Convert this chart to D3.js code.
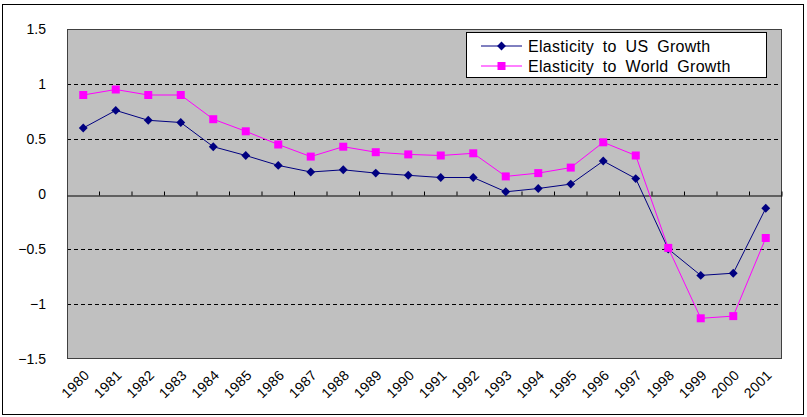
<!DOCTYPE html>
<html>
<head>
<meta charset="utf-8">
<script src="https://cdn.jsdelivr.net/npm/d3@7"></script>
<style>
    body { margin: 0; background: #fff; }
    svg { display: block; font-family: "Liberation Sans", Arial, sans-serif; }
</style>
</head>
<body>
<svg id="chart" width="807" height="417"></svg>
<script>
var years = ['1980', '1981', '1982', '1983', '1984', '1985', '1986', '1987',
             '1988', '1989', '1990', '1991', '1992', '1993', '1994', '1995',
             '1996', '1997', '1998', '1999', '2000', '2001'];
var us_growth = [0.6, 0.76, 0.67, 0.65, 0.43, 0.35, 0.26, 0.2, 0.22, 0.19, 0.17,
                 0.15, 0.15, 0.02, 0.05, 0.09, 0.3, 0.14, -0.5, -0.74, -0.72, -0.13];
var world_growth = [0.9, 0.95, 0.9, 0.9, 0.68, 0.57, 0.45, 0.34, 0.43, 0.38, 0.36,
                    0.35, 0.37, 0.16, 0.19, 0.24, 0.47, 0.35, -0.49, -1.13, -1.11, -0.4];
var y_ticks = [-1.5, -1, -0.5, 0, 0.5, 1, 1.5];
var series_names = ['Elasticity to US Growth', 'Elasticity to World Growth'];

var svg = d3.select('#chart');
var plot = { left: 67, right: 782, top: 29, bottom: 359 };

// outer chart border
svg.append('rect')
    .attr('x', 2.5).attr('y', 4.5)
    .attr('width', 801).attr('height', 410)
    .attr('fill', '#fff')
    .attr('stroke', '#000')
    .attr('stroke-width', 1);

var x = d3.scaleBand().domain(years).range([plot.left, plot.right]);
var y = d3.scaleLinear().domain([-1.5, 1.5]).range([plot.bottom, plot.top]);

svg.append('rect')
    .attr('x', plot.left).attr('y', plot.top)
    .attr('width', plot.right - plot.left)
    .attr('height', plot.bottom - plot.top)
    .attr('fill', '#c0c0c0');

// dashed gridlines
svg.append('g')
    .selectAll('line')
    .data(y_ticks.filter(function (d) { return d !== 0 && Math.abs(d) !== 1.5; }))
    .enter().append('line')
    .attr('x1', plot.left).attr('x2', plot.right)
    .attr('y1', function (d) { return Math.round(y(d)) + 0.5; })
    .attr('y2', function (d) { return Math.round(y(d)) + 0.5; })
    .attr('stroke', '#000')
    .attr('stroke-dasharray', '4,3');

svg.append('rect')
    .attr('x', plot.left + 0.5).attr('y', plot.top + 0.5)
    .attr('width', plot.right - plot.left - 1)
    .attr('height', plot.bottom - plot.top - 1)
    .attr('fill', 'none')
    .attr('stroke', '#404040');

// y axis labels
var y_axis = d3.axisLeft(y)
    .tickValues(y_ticks)
    .tickSize(0)
    .tickPadding(21)
    .tickFormat(function (d) { return d < 0 ? '\u2212' + Math.abs(d) : String(d); });
var y_g = svg.append('g')
    .attr('transform', 'translate(' + plot.left + ',0)')
    .call(y_axis);
y_g.select('.domain').remove();
y_g.selectAll('text')
    .attr('font-size', 14)
    .attr('font-family', '"Liberation Sans", Arial, sans-serif')
    .attr('fill', '#000');

// zero line with category ticks
var zero_y = Math.round(y(0)) + 1.5;
var x_axis = d3.axisTop(x)
    .tickSize(4)
    .tickFormat('')
    .tickSizeOuter(0);
var x_g = svg.append('g')
    .attr('transform', 'translate(0,' + zero_y + ')')
    .call(x_axis);
x_g.selectAll('.tick').attr('transform', function (d) {
    return 'translate(' + (x(d) + x.bandwidth()) + ',0)';
});
x_g.selectAll('line, path').attr('stroke', '#000');

// rotated year labels
svg.append('g')
    .selectAll('text')
    .data(years)
    .enter().append('text')
    .attr('transform', function (d) {
        return 'translate(' + (x(d) + x.bandwidth() / 2 + 7) + ',' + (plot.bottom + 17) + ') rotate(-45)';
    })
    .attr('text-anchor', 'end')
    .attr('font-size', 14)
    .attr('letter-spacing', 0.3)
    .text(function (d) { return d; });

var line_gen = d3.line()
    .x(function (d, i) { return x(years[i]) + x.bandwidth() / 2; })
    .y(function (d) { return y(d); });

var diamond = d3.symbol().type(d3.symbolDiamond2).size(50);
var square = d3.symbol().type(d3.symbolSquare).size(64);

function draw_series(values, color, kind) {
    var g = svg.append('g');
    g.append('path')
        .datum(values)
        .attr('d', line_gen)
        .attr('fill', 'none')
        .attr('stroke', color)
        .attr('stroke-width', 1);
    g.selectAll('.marker')
        .data(values)
        .enter().append('path')
        .attr('class', 'marker')
        .attr('transform', function (d, i) {
            return 'translate(' + (x(years[i]) + x.bandwidth() / 2) + ',' + y(d) + ')';
        })
        .attr('d', kind === 'diamond' ? diamond : square)
        .attr('fill', color);
}

draw_series(us_growth, '#000080', 'diamond');
draw_series(world_growth, '#ff00ff', 'square');

// legend
var legend = svg.append('g').attr('transform', 'translate(466,32)');
legend.append('rect')
    .attr('x', 0.5).attr('y', 0.5)
    .attr('width', 300).attr('height', 45)
    .attr('fill', '#fff')
    .attr('stroke', '#000');

var legend_items = [
    { name: series_names[0], color: '#000080', kind: 'diamond' },
    { name: series_names[1], color: '#ff00ff', kind: 'square' }
];
var rows = legend.selectAll('.row')
    .data(legend_items)
    .enter().append('g')
    .attr('class', 'row')
    .attr('transform', function (d, i) { return 'translate(0,' + (14 + i * 20) + ')'; });
rows.append('line')
    .attr('x1', 15).attr('x2', 56)
    .attr('stroke', function (d) { return d.color; });
rows.append('path')
    .attr('transform', 'translate(35.5,0)')
    .attr('d', function (d) { return d.kind === 'diamond' ? diamond() : square(); })
    .attr('fill', function (d) { return d.color; });
rows.append('text')
    .attr('x', 62).attr('y', 6)
    .attr('font-size', 16)
    .attr('word-spacing', 4)
    .attr('letter-spacing', 0.3)
    .text(function (d) { return d.name; });
</script>
</body>
</html>
